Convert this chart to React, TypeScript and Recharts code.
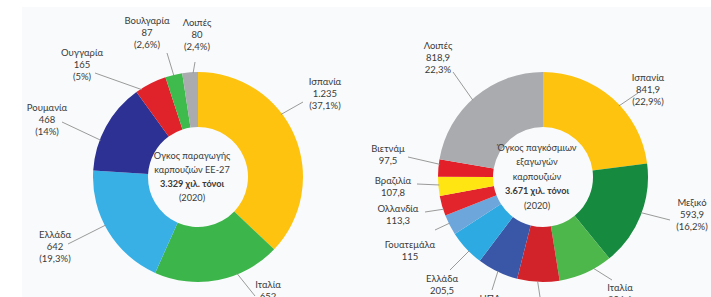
import React from 'react';
import { PieChart, Pie, Cell } from 'recharts';

// ---- EU-27 production (thousand tonnes, 2020) ----
const euCountries = ['Ισπανία', 'Ιταλία', 'Ελλάδα', 'Ρουμανία', 'Ουγγαρία', 'Βουλγαρία', 'Λοιπές'];
const euValues = [1235, 652, 642, 468, 165, 87, 80];
const euShares = ['(37,1%)', '(19,6%)', '(19,3%)', '(14%)', '(5%)', '(2,6%)', '(2,4%)'];
const euColors = ['#FDC30F', '#3CB54A', '#38B0E6', '#2C3193', '#E0232B', '#3FBA4C', '#A9ABAE'];

// ---- World exports (thousand tonnes, 2020) ----
const worldCountries = ['Ισπανία', 'Μεξικό', 'Ιταλία', 'Μαρόκο', 'ΗΠΑ', 'Ελλάδα', 'Γουατεμάλα', 'Ολλανδία', 'Βραζιλία', 'Βιετνάμ', 'Λοιπές'];
const worldValues = [841.9, 593.9, 306.6, 238.6, 232.0, 205.5, 115, 113.3, 107.8, 97.5, 818.9];
const worldShares = ['(22,9%)', '(16,2%)', '(8,4%)', '(6,5%)', '(6,3%)', '(5,6%)', '', '', '', '', '22,3%'];
const worldColors = ['#FDC30F', '#168A3E', '#4DB74B', '#D2232A', '#3A56A7', '#2DAAE1', '#6CA6DA', '#E2242C', '#FFE512', '#E3202A', '#A9ABAE'];

const euCenterText = ['Ογκος παραγωγής', 'καρπουζιών ΕΕ-27', '3.329 χιλ. τόνοι', '(2020)'];
const worldCenterText = ['Όγκος παγκόσμιων', 'εξαγωγών', 'καρπουζιών', '3.671 χιλ. τόνοι', '(2020)'];

// label placement (leader-line start angle clockwise from top, line end & text offset from pie centre)
const euLabelLayout = [
  { angle: 53, end: [105, -75], text: [127, -96] },
  { angle: 158, end: [57, 119], text: [70, 107] },
  { angle: 242.5, end: [-130, 67], text: [-143, 57] },
  { angle: 290.7, end: [-136, -55], text: [-151, -70] },
  { angle: 327.2, end: [-103, -104], text: [-116, -125] },
  { angle: 346.6, end: [-31, -124], text: [-51, -157] },
  { angle: 357.3, end: [-3, -115], text: [-1, -155] },
];
const worldLabelLayout = [
  { angle: 46.9, end: [95, -84], text: [105, -100] },
  { angle: 110, end: [127, 43], text: [149, 25] },
  { angle: 151.2, end: [69, 103], text: [77, 110] },
  { angle: 183, end: [-3, 120], text: [5, 127] },
  { angle: 205.6, end: [-51, 113], text: [-53, 121] },
  { angle: 225, end: [-93, 93], text: [-101, 101] },
  { angle: 243.7, end: [-108, 53], text: [-133, 67] },
  { angle: 252, end: [-118, 35], text: [-145, 31] },
  { angle: 265.6, end: [-126, 7], text: [-150, 3] },
  { angle: 277, end: [-135, -20], text: [-155, -29] },
  { angle: 317.6, end: [-90, -105], text: [-105, -132] },
];

const euData = euCountries.map((name, i) => ({ name, value: euValues[i] }));
const worldData = worldCountries.map((name, i) => ({ name, value: worldValues[i] }));

const FONT = 'Lato, "Liberation Sans", sans-serif';
const TEXT_COLOR = '#3a3a3a';

const fmtEu = (v: number) => String(v).replace(/\B(?=(\d{3})+(?!\d))/g, '.');
const fmtWorld = (v: number) => (Number.isInteger(v) ? String(v) : v.toFixed(1).replace('.', ','));

function makeLabel(layout: any[], shares: string[], fmt: (v: number) => string) {
  return (props: any) => {
    const { cx, cy, outerRadius, index, name, value } = props;
    const L = layout[index];
    const a = (L.angle * Math.PI) / 180;
    const sx = cx + (outerRadius - 1) * Math.sin(a);
    const sy = cy - (outerRadius - 1) * Math.cos(a);
    const lines = [name, fmt(value), shares[index]].filter((s) => s);
    return (
      <g key={`lbl-${index}`}>
        <line x1={sx} y1={sy} x2={cx + L.end[0]} y2={cy + L.end[1]} stroke="#8f8f8f" strokeWidth={0.9} />
        {lines.map((t, i) => (
          <text
            key={i}
            x={cx + L.text[0]}
            y={cy + L.text[1] + i * 12}
            textAnchor="middle"
            dominantBaseline="central"
            fontFamily={FONT}
            fontSize={9.5}
            fill={TEXT_COLOR}
          >
            {t}
          </text>
        ))}
      </g>
    );
  };
}

function CenterText({ cx, cy, lines, boldIndex, step }: { cx: number; cy: number; lines: string[]; boldIndex: number; step: number }) {
  const y0 = cy - ((lines.length - 1) * step) / 2;
  return (
    <g>
      {lines.map((t, i) => (
        <text
          key={i}
          x={cx}
          y={y0 + i * step}
          textAnchor="middle"
          dominantBaseline="central"
          fontFamily={FONT}
          fontSize={9.2}
          fontWeight={i === boldIndex ? 700 : 400}
          fill={TEXT_COLOR}
        >
          {t}
        </text>
      ))}
    </g>
  );
}

export default function App() {
  const W = 711;
  const H = 297;
  return (
    <div style={{ position: 'absolute', left: 0, top: 0, width: W, height: H, background: '#ffffff', overflow: 'hidden' }}>
      <div style={{ position: 'absolute', left: 22, top: 7, width: W - 22, height: H - 7, background: '#f9fafb' }} />
      <div style={{ position: 'absolute', left: 0, top: 0 }}>
        <PieChart width={W} height={H}>
          <Pie
            data={euData}
            dataKey="value"
            nameKey="name"
            cx={193}
            cy={172}
            innerRadius={50}
            outerRadius={105}
            startAngle={90}
            endAngle={-270}
            stroke="none"
            isAnimationActive={false}
            labelLine={false}
            label={makeLabel(euLabelLayout, euShares, fmtEu)}
          >
            {euData.map((d, i) => (
              <Cell key={d.name + i} fill={euColors[i]} />
            ))}
          </Pie>
          <Pie
            data={worldData}
            dataKey="value"
            nameKey="name"
            cx={538}
            cy={172}
            innerRadius={50}
            outerRadius={105}
            startAngle={90}
            endAngle={-270}
            stroke="none"
            isAnimationActive={false}
            labelLine={false}
            label={makeLabel(worldLabelLayout, worldShares, fmtWorld)}
          >
            {worldData.map((d, i) => (
              <Cell key={d.name + i} fill={worldColors[i]} />
            ))}
          </Pie>
        </PieChart>
      </div>
      <svg style={{ position: 'absolute', left: 0, top: 0, pointerEvents: 'none' }} width={W} height={H}>
        <CenterText cx={192} cy={176} lines={euCenterText} boldIndex={2} step={14} />
        <CenterText cx={537} cy={176} lines={worldCenterText} boldIndex={3} step={14.5} />
      </svg>
    </div>
  );
}
